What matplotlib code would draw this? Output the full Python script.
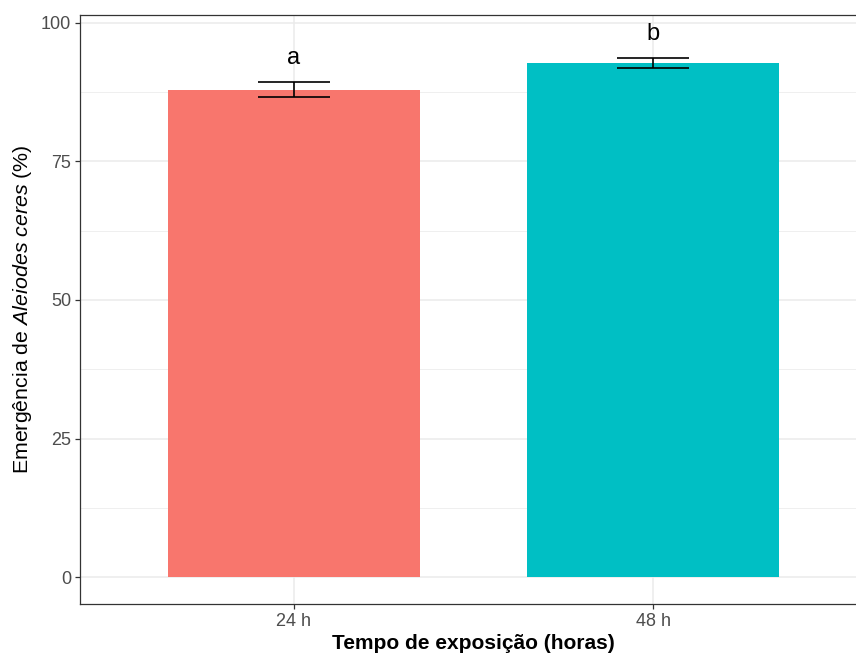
import matplotlib.pyplot as plt
import matplotlib as mpl

mpl.rcParams["font.family"] = ["Liberation Sans", "DejaVu Sans"]
mpl.rcParams["mathtext.fontset"] = "custom"
mpl.rcParams["mathtext.rm"] = "Liberation Sans"
mpl.rcParams["mathtext.it"] = "Liberation Sans:italic"

# data
groups = ["24 h", "48 h"]
means = [87.9, 92.7]
errors = [1.3, 0.85]
letters = ["a", "b"]
colors = ["#F8766D", "#00BFC4"]

W, H = 856, 653
fig = plt.figure(figsize=(W / 100, H / 100), dpi=100)
# panel in pixels: left 80, right ~867 (cropped by image edge), top 15.3, bottom 603.7
ax = fig.add_axes([80 / W, (H - 603.7) / H, (867 - 80) / W, (603.7 - 15.3) / H])

x = [1, 2]
ax.set_xlim(0.404, 2.596)
ax.set_ylim(-4.76, 101.3)

# grid
for v in [12.5, 37.5, 62.5, 87.5]:
    ax.axhline(v, color="#EBEBEB", lw=0.55, zorder=0)
for v in [0, 25, 50, 75, 100]:
    ax.axhline(v, color="#EBEBEB", lw=1.1, zorder=0)
for v in x:
    ax.axvline(v, color="#EBEBEB", lw=1.1, zorder=0)

ax.bar(x, means, width=0.7, color=colors, zorder=2)
ax.errorbar(x, means, yerr=errors, fmt="none", ecolor="black",
            elinewidth=1.2, capsize=26, capthick=1.2, zorder=3)
for xi, m, e, lab in zip(x, means, errors, letters):
    ax.text(xi, m + e + 4.4, lab, ha="center", va="center",
            fontsize=17, color="black", zorder=4)

ax.set_xticks(x)
ax.set_xticklabels(groups)
ax.set_yticks([0, 25, 50, 75, 100])
ax.tick_params(axis="both", colors="#333333", labelcolor="#4D4D4D",
               labelsize=13, length=3.5, width=0.9, pad=3)

for s in ax.spines.values():
    s.set_color("#333333")
    s.set_linewidth(0.9)

ax.set_xlabel("Tempo de exposição (horas)", fontsize=15, fontweight="bold",
              labelpad=3)
ax.set_ylabel(r"Emergência de $Aleiodes\ ceres$ (%)", fontsize=15.4, labelpad=5)

fig.savefig("out.png", dpi=100, facecolor="white")
